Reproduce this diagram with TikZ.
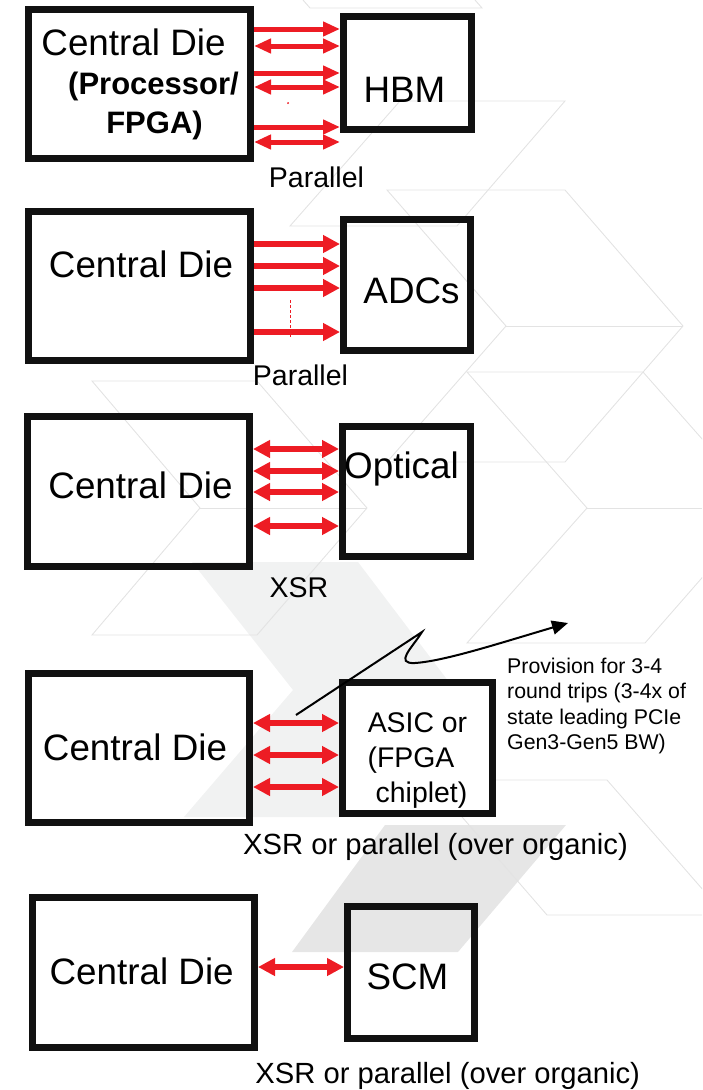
\documentclass[tikz,border=0pt]{standalone}
\usepackage{fontspec}
\setmainfont{Liberation Sans}
\usetikzlibrary{arrows.meta}
\definecolor{xred}{HTML}{ED1C24}
\definecolor{boxk}{HTML}{111111}
\definecolor{chev}{HTML}{F1F2F2}
\definecolor{chevdark}{HTML}{E6E6E6}
\definecolor{hexline}{HTML}{E3E3E3}
\tikzset{
  diebox/.style={draw=boxk, line width=7pt, inner sep=0pt, rectangle},
  big/.style={anchor=base, inner sep=0pt, font=\fontsize{36.8}{40}\selectfont},
  boldtxt/.style={anchor=base, inner sep=0pt, font=\fontsize{31}{34}\selectfont\bfseries},
  lbl/.style={anchor=base, inner sep=0pt, font=\fontsize{28.5}{32}\selectfont},
  captiontxt/.style={anchor=base, inner sep=0pt, font=\fontsize{29.2}{32}\selectfont},
  asictxt/.style={anchor=base, inner sep=0pt, font=\fontsize{28.4}{32}\selectfont},
  notetxt/.style={anchor=base west, inner sep=0pt, font=\fontsize{21.3}{24}\selectfont},
  rarrA/.style={draw=xred, line width=5pt, -{Triangle[length=17pt,width=14pt]}},
  darrA/.style={draw=xred, line width=5pt, {Triangle[length=17pt,width=14pt]}-{Triangle[length=17pt,width=14pt]}},
  rarr/.style={draw=xred, line width=5.8pt, -{Triangle[length=17pt,width=17pt]}},
  darr/.style={draw=xred, line width=5.8pt, {Triangle[length=17pt,width=17pt]}-{Triangle[length=17pt,width=17pt]}},
  bgline/.style={draw=hexline, line width=0.9pt, line join=miter},
}
\begin{document}
\begin{tikzpicture}[x=1pt,y=-1pt]
\useasboundingbox (0,0) rectangle (702,1090);

% ---------- background decoration ----------
\begin{scope}
\clip (0,0) rectangle (702,1090);
\fill[chev] (192,562) -- (358,562) -- (455,690) -- (345,817) -- (184,817) -- (293,690) -- cycle;
\fill[chevdark] (385,825) -- (566,825) -- (458,952) -- (292,952) -- cycle;
% faint outlines
\draw[bgline] (303,0) -- (310,8) -- (482,8) -- (475,0);
\draw[bgline] (400,101) -- (565,101) -- (457,226) -- (290,226) -- cycle;
\draw[bgline] (387,190) -- (565,190) -- (683,326) -- (565,462) -- (387,462) -- (506,326) -- cycle;
\draw[bgline] (506,326) -- (683,326);
\draw[bgline] (92,381) -- (257,381) -- (367,508) -- (257,635) -- (92,635) -- (200,508) -- cycle;
\draw[bgline] (200,508) -- (367,508);
\draw[bgline] (467,372) -- (643,372) -- (763,508) -- (645,643) -- (467,643) -- (587,508) -- cycle;
\draw[bgline] (587,508) -- (702,508);
\draw[bgline] (430,780) -- (607,780) -- (725,915);
\draw[bgline] (430,780) -- (547,915) -- (725,915);
\end{scope}

% ---------- boxes ----------
\node[diebox, minimum width=222pt, minimum height=149pt] (d1) at (139.5,84) {};
\node[diebox, minimum width=128pt, minimum height=113pt] (h1) at (407.5,73) {};
\node[diebox, minimum width=222pt, minimum height=149pt] (d2) at (139.5,286) {};
\node[diebox, minimum width=127pt, minimum height=131pt] (a2) at (407,285) {};
\node[diebox, minimum width=222pt, minimum height=150pt] (d3) at (138.5,491.5) {};
\node[diebox, minimum width=128pt, minimum height=130pt] (o3) at (406.5,491.5) {};
\node[diebox, minimum width=221pt, minimum height=149pt] (d4) at (139,748) {};
\node[diebox, fill=white, minimum width=150pt, minimum height=131pt] (s4) at (417.5,748) {};
\node[diebox, minimum width=222pt, minimum height=150pt] (d5) at (143.5,972.5) {};
\node[diebox, minimum width=127pt, minimum height=132pt] (m5) at (411,972.5) {};

% ---------- row 1 arrows ----------
\draw[rarrA] (d1.east |- 0,29) -- (h1.west |- 0,29);
\draw[darrA] (d1.east |- 0,46) -- (h1.west |- 0,46);
\draw[rarrA] (d1.east |- 0,73) -- (h1.west |- 0,73);
\draw[darrA] (d1.east |- 0,87) -- (h1.west |- 0,87);
\draw[rarrA] (d1.east |- 0,127) -- (h1.west |- 0,127);
\draw[darrA] (d1.east |- 0,142) -- (h1.west |- 0,142);
\fill[xred] (288,103) circle (1pt);

% ---------- row 2 arrows ----------
\draw[rarr] (d2.east |- 0,244) -- (a2.west |- 0,244);
\draw[rarr] (d2.east |- 0,266) -- (a2.west |- 0,266);
\draw[rarr] (d2.east |- 0,288) -- (a2.west |- 0,288);
\draw[rarr] (d2.east |- 0,332) -- (a2.west |- 0,332);
\draw[xred, line width=1pt, dash pattern=on 3pt off 2pt] (290,300) -- (290,337);

% ---------- row 3 arrows ----------
\draw[darr] (d3.east |- 0,449) -- (o3.west |- 0,449);
\draw[darr] (d3.east |- 0,471) -- (o3.west |- 0,471);
\draw[darr] (d3.east |- 0,492) -- (o3.west |- 0,492);
\draw[darr] (d3.east |- 0,526) -- (o3.west |- 0,526);

% ---------- row 4 arrows ----------
\draw[darr] (d4.east |- 0,723) -- (s4.west |- 0,723);
\draw[darr] (d4.east |- 0,755) -- (s4.west |- 0,755);
\draw[darr] (d4.east |- 0,787) -- (s4.west |- 0,787);

% lightning arrow
\coordinate (ls) at (296,715);
\coordinate (le) at (568,623);
\draw[black, line width=2pt, line join=miter, -{Triangle[length=16pt,width=14pt]}]
  (ls) -- (422,632) .. controls (412,648) and (394,664) .. (415,663)
  .. controls (445,661) and (500,643) .. (le);

% ---------- row 5 arrow ----------
\draw[darr] (d5.east |- 0,967) -- (m5.west |- 0,967);

% ---------- texts ----------
\node[big] (t1a) at (133.5,55) {Central Die};
\node[boldtxt] (t1b) at (153.5,94) {(Processor/};
\node[boldtxt] (t1c) at (154.5,133) {FPGA)};
\node[big] (t1d) at (404.5,102) {HBM};
\node[lbl] (t1e) at (316.5,187) {Parallel};

\node[big] (t2a) at (141,277) {Central Die};
\node[big] (t2b) at (411.5,303) {ADCs};
\node[lbl] (t2c) at (300.5,385) {Parallel};

\node[big] (t3a) at (140.5,498) {Central Die};
\node[big] (t3b) at (401.5,478) {Optical};
\node[lbl] (t3c) at (299,597) {XSR};

\node[big] (t4a) at (135,760) {Central Die};
\node[asictxt] (t4b) at (417.5,732) {ASIC or};
\node[asictxt] (t4c) at (411,767) {(FPGA};
\node[asictxt] (t4d) at (421.5,802) {chiplet)};
\node[notetxt] (n1) at (507,673) {Provision for 3-4};
\node[notetxt] (n2) at (507,698) {round trips (3-4x of};
\node[notetxt] (n3) at (507,724) {state leading PCIe};
\node[notetxt] (n4) at (507,749) {Gen3-Gen5 BW)};
\node[captiontxt] (t4e) at (435.5,854) {XSR or parallel (over organic)};

\node[big] (t5a) at (141.7,984) {Central Die};
\node[big] (t5b) at (407.5,989) {SCM};
\node[captiontxt] (t5c) at (447.7,1083) {XSR or parallel (over organic)};
\end{tikzpicture}
\end{document}
